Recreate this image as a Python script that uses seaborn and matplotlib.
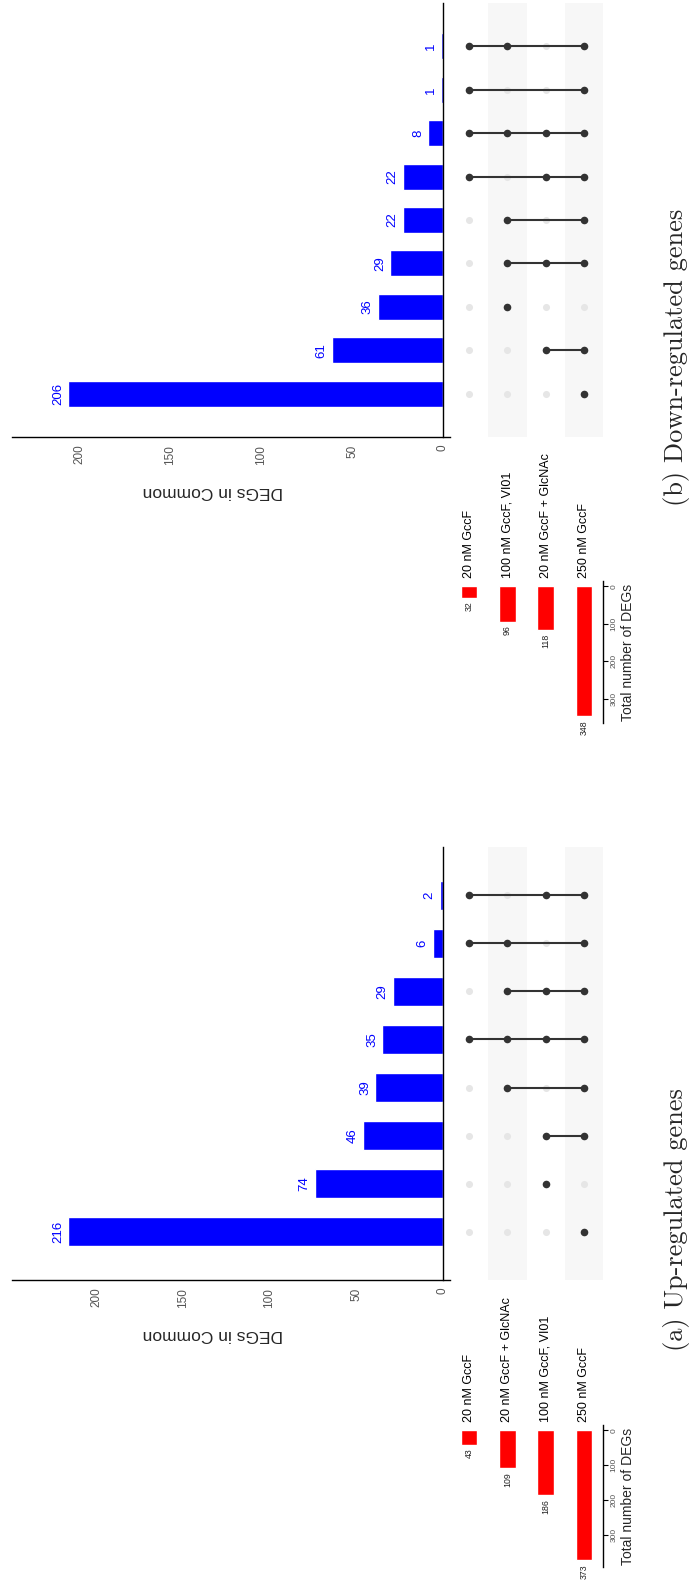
import numpy as np
import pandas as pd
import matplotlib
matplotlib.use("Agg")
import matplotlib.pyplot as plt
import seaborn as sns

# ---------------- data ----------------
# (a) Up-regulated genes
up_sets = ["20 nM GccF", "20 nM GccF + GlcNAc", "100 nM GccF, VI01", "250 nM GccF"]
up_set_sizes = [43, 109, 186, 373]
up_counts = [2, 6, 29, 35, 39, 46, 74, 216]
up_members = [[0, 2, 3], [0, 1, 3], [1, 2, 3], [0, 1, 2, 3], [1, 3], [2, 3], [2], [3]]

# (b) Down-regulated genes
down_sets = ["20 nM GccF", "100 nM GccF, VI01", "20 nM GccF + GlcNAc", "250 nM GccF"]
down_set_sizes = [32, 96, 118, 348]
down_counts = [1, 1, 8, 22, 22, 29, 36, 61, 206]
down_members = [[0, 1, 3], [0, 3], [0, 1, 2, 3], [0, 2, 3], [1, 3], [1, 2, 3], [1], [2, 3], [3]]

# ---------------- style ----------------
sns.set_style("white")
plt.rcParams["font.family"] = ["Liberation Sans", "DejaVu Sans"]

W, H = 692, 1589
fig = plt.figure(figsize=(W / 100, H / 100), dpi=100)

BLUE = "#0000ff"
RED = "#ff0000"
DOT_ON = "#333333"
DOT_OFF = "#e6e6e6"
BAND = "#f7f7f7"
TICK_GRAY = "#555555"


def px_axes(x0, y0, x1, y1):
    return fig.add_axes([x0 / W, 1 - y1 / H, (x1 - x0) / W, (y1 - y0) / H])


def upset_panel(sets, set_sizes, counts, members, y_top, y_bot, s_top, s_bot, caption, cap_y):
    n = len(counts)
    k = len(sets)

    # intersection sizes (bars pointing left)
    ax_bar = px_axes(12, y_top, 443, y_bot)
    df = pd.DataFrame({"row": [f"r{i}" for i in range(n)], "count": counts})
    sns.barplot(data=df, x="count", y="row", orient="h", color=BLUE,
                saturation=1, width=0.6, ax=ax_bar)
    xmax = max(counts) * 1.15
    ax_bar.set_xlim(xmax, 0)
    ax_bar.set_ylim(n, -1)
    for c in ax_bar.containers:
        ax_bar.bar_label(c, labels=[str(v) for v in counts], rotation=90,
                         color=BLUE, fontsize=9.5, padding=3)
    for side in ["top", "left"]:
        ax_bar.spines[side].set_visible(False)
    for side in ["right", "bottom"]:
        ax_bar.spines[side].set_color("black")
        ax_bar.spines[side].set_linewidth(1.0)
    ax_bar.spines["bottom"].set_bounds(xmax, -xmax * 0.016)
    ax_bar.set_yticks([])
    ax_bar.set_ylabel("")
    ax_bar.set_xticks([0, 50, 100, 150, 200])
    ax_bar.tick_params(axis="x", direction="out", length=3.5, width=0.8,
                       colors="black", labelcolor=TICK_GRAY, labelsize=8.5,
                       labelrotation=90, pad=2)
    ax_bar.set_xlabel("DEGs in Common", fontsize=12.5, rotation=180)
    ax_bar.xaxis.label.set_va("center")
    ax_bar.xaxis.set_label_coords(0.465, -0.125)

    # membership matrix
    ax_m = px_axes(450, y_top, 603, y_bot)
    ax_m.set_xlim(-0.5, k - 0.5)
    ax_m.set_ylim(n, -1)
    for j in range(k):
        if j % 2 == 1:
            ax_m.axvspan(j - 0.5, j + 0.5, color=BAND, lw=0, zorder=0)
    gx, gy = np.meshgrid(np.arange(k), np.arange(n))
    ax_m.scatter(gx.ravel(), gy.ravel(), s=26, color=DOT_OFF, lw=0, zorder=2)
    for i, mem in enumerate(members):
        if len(mem) > 1:
            ax_m.plot([min(mem), max(mem)], [i, i], color=DOT_ON, lw=1.5,
                      solid_capstyle="butt", zorder=3)
        ax_m.scatter(mem, [i] * len(mem), s=30, color=DOT_ON, lw=0, zorder=4)
    ax_m.axis("off")

    # set sizes (bars pointing down)
    ax_s = px_axes(450, s_top, 603, s_bot)
    ds = pd.DataFrame({"set": sets, "size": set_sizes})
    sns.barplot(data=ds, x="set", y="size", order=sets, color=RED,
                saturation=1, width=0.43, ax=ax_s)
    smax = max(set_sizes)
    ax_s.set_xlim(-0.5, k - 0.5)
    ax_s.set_ylim(smax * 1.05, -smax * 0.04)
    for c in ax_s.containers:
        ax_s.bar_label(c, labels=[str(v) for v in set_sizes], rotation=90,
                       fontsize=6.3, color="#222222", padding=2.5)
    for j, name in enumerate(sets):
        ax_s.annotate(name, xy=(j, 0), xytext=(0, 8), textcoords="offset pixels",
                      rotation=90, ha="center", va="bottom", fontsize=9,
                      color="black", annotation_clip=False)
    for side in ["top", "left", "bottom"]:
        ax_s.spines[side].set_visible(False)
    ax_s.spines["right"].set_color("black")
    ax_s.spines["right"].set_linewidth(1.0)
    ax_s.set_xticks([])
    ax_s.set_xlabel("")
    ax_s.yaxis.tick_right()
    ax_s.set_yticks([0, 100, 200, 300])
    ax_s.tick_params(axis="y", direction="out", length=3.5, width=0.8,
                     colors="black", labelcolor=TICK_GRAY, labelsize=6,
                     labelrotation=90, pad=2)
    for t in ax_s.get_yticklabels():
        t.set_va("center")
    ax_s.yaxis.set_label_position("right")
    ax_s.set_ylabel("Total number of DEGs", fontsize=10, rotation=90)
    ax_s.yaxis.label.set_va("center")
    ax_s.yaxis.label.set_ha("center")
    ax_s.yaxis.set_label_coords((628 - 450) / 153, 0.5)

    fig.text(677 / W, 1 - cap_y / H, caption, rotation=90, ha="center",
             va="center", fontsize=19, family=["cmr10", "DejaVu Serif"])


upset_panel(down_sets, down_set_sizes, down_counts, down_members,
            3, 437, 581, 723, "(b) Down-regulated genes", 357)
upset_panel(up_sets, up_set_sizes, up_counts, up_members,
            847, 1280, 1425, 1567, "(a) Up-regulated genes", 1220)

fig.savefig("out.png", dpi=100)
